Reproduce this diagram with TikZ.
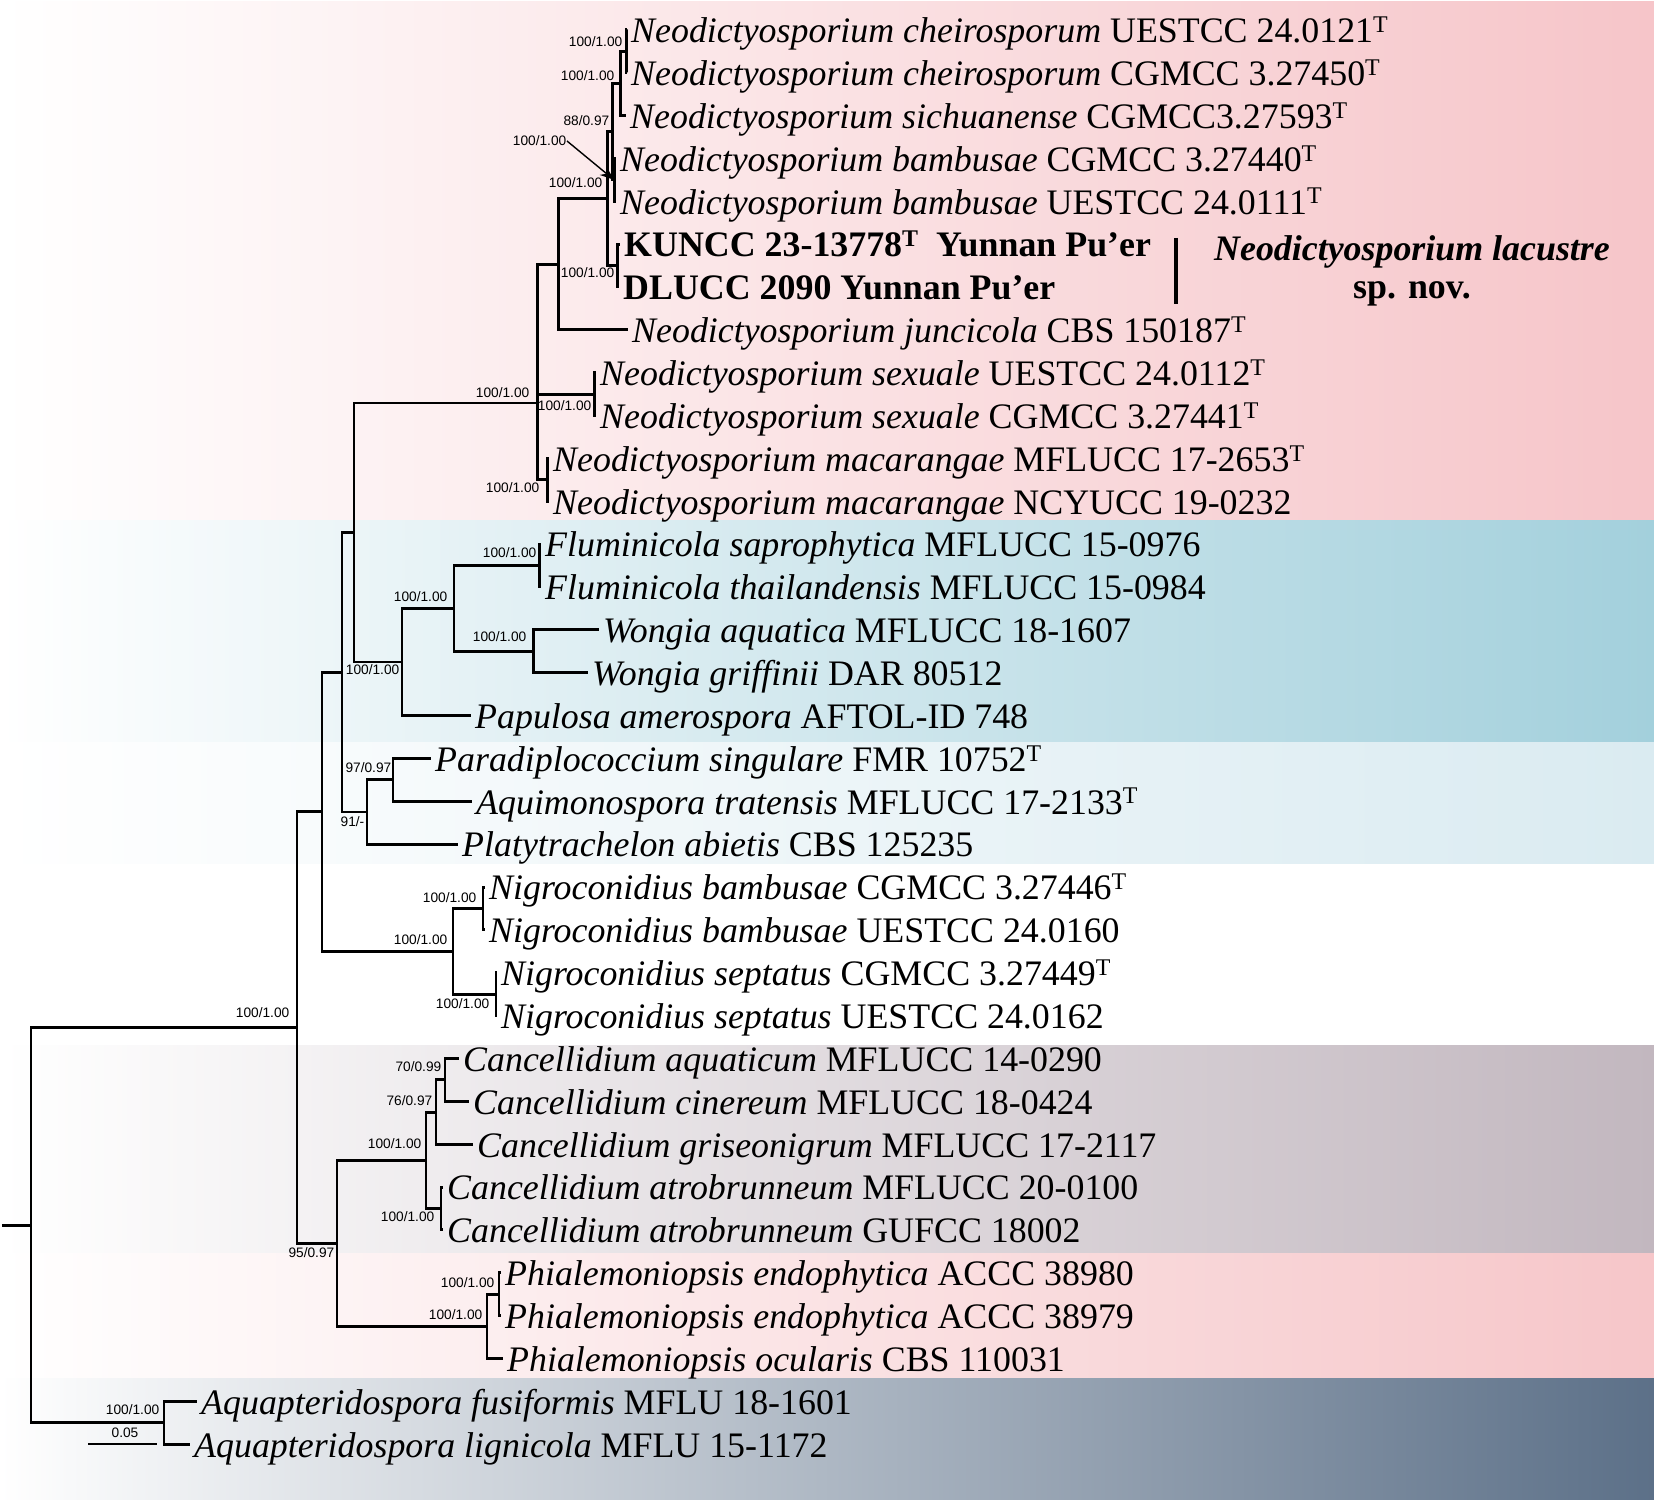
\documentclass[tikz,border=0pt]{standalone}
\usepackage{fontspec}
\setmainfont{Liberation Serif}
\newfontfamily\suppfont{Liberation Sans}
\usetikzlibrary{arrows.meta}
\definecolor{neopink}{RGB}{246,197,201}
\definecolor{flublue}{RGB}{163,208,220}
\definecolor{palblue}{RGB}{218,235,241}
\definecolor{cangrey}{RGB}{194,183,191}
\definecolor{phipink}{RGB}{246,198,201}
\definecolor{aquslate}{RGB}{92,112,136}
\newcommand{\exT}{\raisebox{2.9pt}{\fontsize{6.8}{7}\selectfont T}}

\begin{document}
\begin{tikzpicture}[x=0.01cm,y=-0.01cm,
  branch/.style={line width=0.85pt},
  tip/.style={anchor=west,inner xsep=1pt,inner ysep=0pt,text height=7.3pt,text depth=0pt,font=\fontsize{10.2}{12}\selectfont},
  supp/.style={anchor=east,inner sep=0pt,font=\suppfont\fontsize{3.9}{4}\selectfont}]
  \useasboundingbox (0,0) rectangle (1654,1500);
  % clade bands
  \shade[left color=white,right color=neopink] (0,2) rectangle (1654,520);
  \shade[left color=white,right color=flublue] (0,520) rectangle (1654,742);
  \shade[left color=white,right color=palblue] (0,742) rectangle (1654,863);
  \shade[left color=white,right color=cangrey] (0,1045) rectangle (1654,1253);
  \shade[left color=white,right color=phipink] (0,1253) rectangle (1654,1378);
  \shade[left color=white,right color=aquslate] (0,1378) rectangle (1654,1500);

  % taxa
  \node[tip] (t1) at (627,29.8) {\textit{Neodictyosporium cheirosporum} UESTCC 24.0121\exT};
  \node[tip] (t2) at (627,72.7) {\textit{Neodictyosporium cheirosporum} CGMCC 3.27450\exT};
  \node[tip] (t3) at (626,115.5) {\textit{Neodictyosporium sichuanense} CGMCC3.27593\exT};
  \node[tip] (t4) at (616,158.4) {\textit{Neodictyosporium bambusae} CGMCC 3.27440\exT};
  \node[tip] (t5) at (616,201.2) {\textit{Neodictyosporium bambusae} UESTCC 24.0111\exT};
  \node[tip] (t6) at (620,244.1) {\textbf{KUNCC 23-13778\exT\ \ Yunnan Pu’er}};
  \node[tip] (t7) at (619,287.0) {\textbf{DLUCC 2090 Yunnan Pu’er}};
  \node[tip] (t8) at (628,329.8) {\textit{Neodictyosporium juncicola} CBS 150187\exT};
  \node[tip] (t9) at (596,372.7) {\textit{Neodictyosporium sexuale} UESTCC 24.0112\exT};
  \node[tip] (t10) at (596,415.5) {\textit{Neodictyosporium sexuale} CGMCC 3.27441\exT};
  \node[tip] (t11) at (549,458.4) {\textit{Neodictyosporium macarangae} MFLUCC 17-2653\exT};
  \node[tip] (t12) at (549,501.3) {\textit{Neodictyosporium macarangae} NCYUCC 19-0232};
  \node[tip] (t13) at (541,544.1) {\textit{Fluminicola saprophytica} MFLUCC 15-0976};
  \node[tip] (t14) at (541,587.0) {\textit{Fluminicola thailandensis} MFLUCC 15-0984};
  \node[tip] (t15) at (599,629.8) {\textit{Wongia aquatica} MFLUCC 18-1607};
  \node[tip] (t16) at (588,672.7) {\textit{Wongia griffinii} DAR 80512};
  \node[tip] (t17) at (471,715.6) {\textit{Papulosa amerospora} AFTOL-ID 748};
  \node[tip] (t18) at (431,758.4) {\textit{Paradiplococcium singulare} FMR 10752\exT};
  \node[tip] (t19) at (472,801.3) {\textit{Aquimonospora tratensis} MFLUCC 17-2133\exT};
  \node[tip] (t20) at (458,844.1) {\textit{Platytrachelon abietis} CBS 125235};
  \node[tip] (t21) at (485,887.0) {\textit{Nigroconidius bambusae} CGMCC 3.27446\exT};
  \node[tip] (t22) at (485,929.9) {\textit{Nigroconidius bambusae} UESTCC 24.0160};
  \node[tip] (t23) at (497,972.7) {\textit{Nigroconidius septatus} CGMCC 3.27449\exT};
  \node[tip] (t24) at (497,1015.6) {\textit{Nigroconidius septatus} UESTCC 24.0162};
  \node[tip] (t25) at (459,1058.4) {\textit{Cancellidium aquaticum} MFLUCC 14-0290};
  \node[tip] (t26) at (469,1101.3) {\textit{Cancellidium cinereum} MFLUCC 18-0424};
  \node[tip] (t27) at (473,1144.2) {\textit{Cancellidium griseonigrum} MFLUCC 17-2117};
  \node[tip] (t28) at (443,1187.0) {\textit{Cancellidium atrobrunneum} MFLUCC 20-0100};
  \node[tip] (t29) at (443,1229.9) {\textit{Cancellidium atrobrunneum} GUFCC 18002};
  \node[tip] (t30) at (501,1272.7) {\textit{Phialemoniopsis endophytica} ACCC 38980};
  \node[tip] (t31) at (501,1315.6) {\textit{Phialemoniopsis endophytica} ACCC 38979};
  \node[tip] (t32) at (503,1358.5) {\textit{Phialemoniopsis ocularis} CBS 110031};
  \node[tip] (t33) at (197,1401.3) {\textit{Aquapteridospora fusiformis} MFLU 18-1601};
  \node[tip] (t34) at (190,1444.2) {\textit{Aquapteridospora lignicola} MFLU 15-1172};

  % inner nodes
  \coordinate (n12) at (626,51.2);
  \coordinate (nA) at (620,83.4);
  \coordinate (n45) at (614,179.8);
  \coordinate (n88) at (612,131.6);
  \coordinate (nLac) at (617,265.5);
  \coordinate (nB) at (607,198.6);
  \coordinate (nJ) at (558,264.2);
  \coordinate (nSex) at (594,394.1);
  \coordinate (nMac) at (547,479.8);
  \coordinate (nNeo) at (537,403);
  \coordinate (nFlu) at (539,565.5);
  \coordinate (nWon) at (533,651.2);
  \coordinate (nFW) at (454,608.4);
  \coordinate (nPap) at (402,662.0);
  \coordinate (nNF) at (354,532.5);
  \coordinate (nPA) at (393,779.9);
  \coordinate (nPl) at (367,812.0);
  \coordinate (nS) at (342,672.3);
  \coordinate (nNb) at (483,908.4);
  \coordinate (nNs) at (496,994.2);
  \coordinate (nNig) at (453,951.3);
  \coordinate (nT) at (322,811.8);
  \coordinate (nCa) at (445,1079.9);
  \coordinate (nCg) at (436,1112.0);
  \coordinate (nCat) at (441,1208.4);
  \coordinate (nCan) at (426,1160.2);
  \coordinate (nPe) at (499,1294.2);
  \coordinate (nPh) at (487,1326.3);
  \coordinate (nCP) at (337,1243.3);
  \coordinate (nIn) at (297,1027.5);
  \coordinate (nAq) at (164,1422.8);
  \coordinate (root) at (31,1225.2);
  \coordinate (rootstub) at (2,1225.2);

  % branches
  \foreach \p/\c in {n12/t1.west,n12/t2.west,nA/n12,nA/t3.west,n45/t4.west,n45/t5.west,
      n88/nA,n88/n45,nLac/t6.west,nLac/t7.west,nB/n88,nB/nLac,nJ/nB,nJ/t8.west,
      nSex/t9.west,nSex/t10.west,nMac/t11.west,nMac/t12.west,nNeo/nJ,nNeo/nSex,nNeo/nMac,
      nFlu/t13.west,nFlu/t14.west,nWon/t15.west,nWon/t16.west,nFW/nFlu,nFW/nWon,
      nPap/nFW,nPap/t17.west,nNF/nNeo,nNF/nPap,nPA/t18.west,nPA/t19.west,nPl/nPA,nPl/t20.west,
      nS/nNF,nS/nPl,nNb/t21.west,nNb/t22.west,nNs/t23.west,nNs/t24.west,nNig/nNb,nNig/nNs,
      nT/nS,nT/nNig,nCa/t25.west,nCa/t26.west,nCg/nCa,nCg/t27.west,nCat/t28.west,nCat/t29.west,
      nCan/nCg,nCan/nCat,nPe/t30.west,nPe/t31.west,nPh/nPe,nPh/t32.west,nCP/nCan,nCP/nPh,
      nIn/nT,nIn/nCP,nAq/t33.west,nAq/t34.west,root/nIn,root/nAq}
    \draw[branch] (\p) |- (\c);
  \draw[branch] (rootstub) -- (root);

  % support values
  \node[supp] (l12) at (623,42) {100/1.00};
  \node[supp] (lA) at (615,76) {100/1.00};
  \node[supp] (l88) at (610,121) {88/0.97};
  \node[supp] (l45) at (567,141) {100/1.00};
  \draw[-{Stealth[length=4pt,width=3pt]},line width=0.4pt] (l45.east) -- (n45);
  \node[supp] (lB) at (603,183) {100/1.00};
  \node[supp] (lLac) at (615,273) {100/1.00};
  \node[supp] (lSex) at (592,406) {100/1.00};
  \node[supp] (lMac) at (540,488) {100/1.00};
  \node[supp] (lNeo) at (530,393) {100/1.00};
  \node[supp] (lFlu) at (537,553) {100/1.00};
  \node[supp] (lWon) at (527,637) {100/1.00};
  \node[supp] (lFW) at (448,597) {100/1.00};
  \node[supp] (lPap) at (400,670) {100/1.00};
  \node[supp] (lPA) at (392,768) {97/0.97};
  \node[supp] (lPl) at (365,822) {91/-};
  \node[supp] (lNb) at (477,898) {100/1.00};
  \node[supp] (lNs) at (490,1004) {100/1.00};
  \node[supp] (lNig) at (448,940) {100/1.00};
  \node[supp] (lCa) at (442,1067) {70/0.99};
  \node[supp] (lCg) at (433,1101) {76/0.97};
  \node[supp] (lCat) at (435,1217) {100/1.00};
  \node[supp] (lCan) at (422,1144) {100/1.00};
  \node[supp] (lPe) at (495,1283) {100/1.00};
  \node[supp] (lPh) at (483,1315) {100/1.00};
  \node[supp] (lCP) at (335,1253) {95/0.97};
  \node[supp] (lIn) at (290,1013) {100/1.00};
  \node[supp] (lAq) at (160,1410) {100/1.00};

  % scale bar
  \coordinate (sbL) at (88,1444);
  \coordinate (sbR) at (157,1444);
  \draw[line width=0.6pt] (sbL) -- (sbR);
  \node[supp,anchor=center] (sbLab) at (125,1433) {0.05};

  % new species
  \coordinate (lacTop) at (1176,238);
  \coordinate (lacBot) at (1176,304);
  \draw[line width=1.4pt] (lacTop) -- (lacBot);
  \node[align=center,inner sep=0pt,font=\bfseries\fontsize{10.2}{10.6}\selectfont] (lacName) at (1412,271) {\textit{Neodictyosporium lacustre}\\sp. nov.};
\end{tikzpicture}
\end{document}
